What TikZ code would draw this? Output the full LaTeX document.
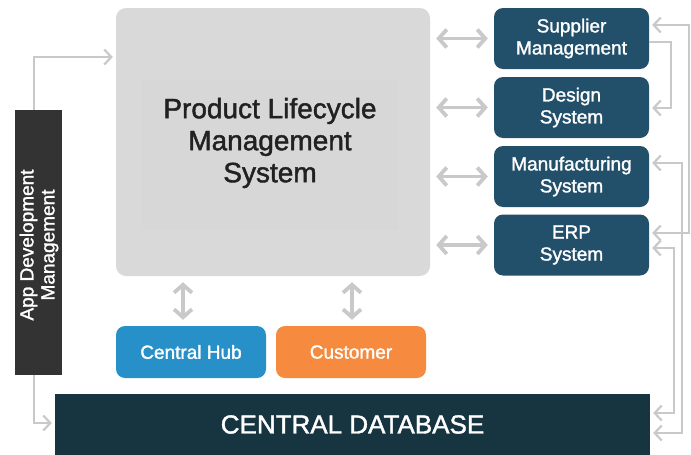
\documentclass[tikz,border=0pt]{standalone}
\usepackage{fontspec}
\setmainfont{Liberation Sans}
\newfontfamily\heavyfont[FakeBold=1.5]{Liberation Sans}
\usetikzlibrary{arrows.meta}
\definecolor{plmgray}{HTML}{D9D9D9}
\definecolor{plminner}{HTML}{D7D7D7}
\definecolor{sysblue}{HTML}{22506A}
\definecolor{hubblue}{HTML}{2790C8}
\definecolor{custorange}{HTML}{F68B3F}
\definecolor{dbnavy}{HTML}{173441}
\definecolor{devgray}{HTML}{333333}
\definecolor{linkgray}{HTML}{C9C9C9}

\begin{document}
\begin{tikzpicture}[x=1pt, y=-1pt,
  sysbox/.style={rounded corners=9pt, fill=sysblue, text=white, align=center, inner sep=0pt,
    minimum width=155pt, minimum height=61pt, font=\heavyfont\fontsize{19}{22}\selectfont},
  smallbox/.style={rounded corners=9pt, text=white, inner sep=0pt,
    minimum width=150pt, minimum height=52pt, font=\heavyfont\fontsize{19}{22}\selectfont},
  dbl/.style={draw=linkgray, line width=3.8pt, shorten <=6pt, shorten >=6pt,
    {Straight Barb[length=8pt,width=18pt]}-{Straight Barb[length=8pt,width=18pt]}},
  link/.style={draw=linkgray, line width=2.2pt, shorten >=3pt, -{Straight Barb[length=7pt,width=15pt]}},
  link2/.style={link, shorten <=3pt, {Straight Barb[length=7pt,width=15pt]}-{Straight Barb[length=7pt,width=15pt]}}]
\useasboundingbox (0,0) rectangle (691,455);

% main system
\node [rounded corners=10pt, fill=plmgray, minimum width=314pt, minimum height=268pt] (plm) at (273,142) {};
\fill [plminner] (141,80) rectangle (398,230);
\node [align=center, text=black!87, font=\heavyfont\fontsize{28}{32}\selectfont] (plmlabel) at (270,143)
  {Product Lifecycle\\Management\\System};

% systems on the right
\node [sysbox] (supplier) at (571.5,38.5) {Supplier\\Management};
\node [sysbox] (design) at (571.5,107.5) {Design\\System};
\node [sysbox] (manuf) at (571.5,176.5) {Manufacturing\\System};
\node [sysbox] (erp) at (571.5,245) {ERP\\System};

% below
\node [smallbox, fill=hubblue] (hub) at (191,352) {Central Hub};
\node [smallbox, fill=custorange] (customer) at (351,352) {Customer};
\node [fill=dbnavy, text=white, minimum width=595pt, minimum height=61pt, inner sep=0pt,
  font=\heavyfont\fontsize{26}{30}\selectfont] (db) at (352.5,424.5) {CENTRAL DATABASE};

% left bar
\node [fill=devgray, minimum width=47pt, minimum height=265pt, inner sep=0pt] (appdev) at (38.5,242.5) {};
\node [rotate=90, text=white, align=center, font=\heavyfont\fontsize{19}{21}\selectfont] (appdevlabel) at (39,245)
  {App Development\\Management};

% links to the main system
\draw [dbl] (plm.east |- supplier) -- (supplier);
\draw [dbl] (plm.east |- design) -- (design);
\draw [dbl] (plm.east |- manuf) -- (manuf);
\draw [dbl] (plm.east |- erp) -- (erp);
\draw [dbl] (plm.south -| 183,0) -- (hub.north -| 183,0);
\draw [dbl] (plm.south -| 352,0) -- (customer.north -| 352,0);

% left side
\draw [link] (appdev.north -| 34,0) |- (plm.west |- 0,57);
\draw [link] (appdev.south -| 34,0) |- (db.west |- 0,423);

% right side
\draw [link2] (supplier.east |- 0,25) -| (689,233) -- (erp.east |- 0,233);
\draw [link] (supplier.east |- 0,42) -| (671,108) -- (design.east |- 0,108);
\draw [link2] (manuf.east |- 0,163) -| (682,433) -- (db.east |- 0,433);
\draw [link2] (erp.east |- 0,248) -| (674,413) -- (db.east |- 0,413);
\end{tikzpicture}
\end{document}
